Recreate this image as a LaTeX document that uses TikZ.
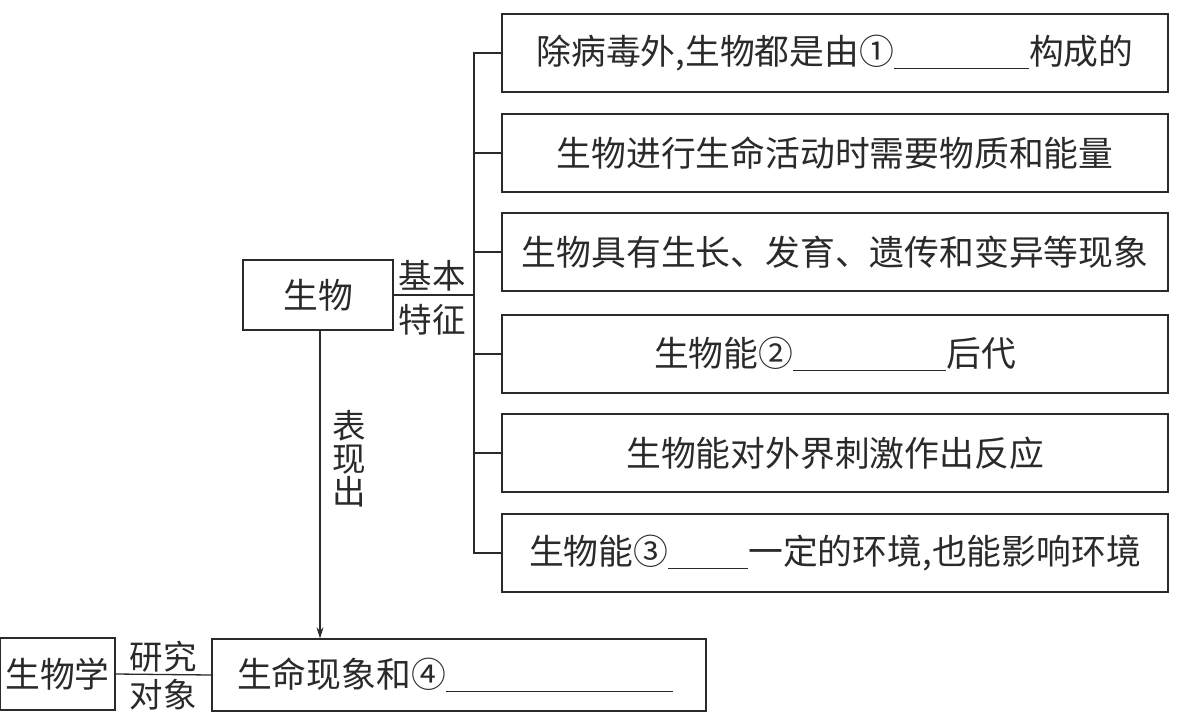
\documentclass[tikz,border=0pt]{standalone}
\usepackage{fontspec}
\setmainfont{Noto Sans CJK SC}
\usetikzlibrary{arrows.meta}
\definecolor{ink}{HTML}{2A2A2A}
\newcommand{\blank}[1]{\rule[-0.13em]{#1pt}{1.3pt}}
\tikzset{
  every node/.style={text=ink, font=\fontsize{34.8}{40}\selectfont},
  featbox/.style={draw=ink, line width=1.3pt, minimum width=666pt, minimum height=78pt, inner sep=0pt},
  plainbox/.style={draw=ink, line width=1.3pt, inner sep=0pt},
  conn/.style={draw=ink, line width=1.3pt},
  lbl/.style={inner sep=0pt, font=\fontsize{33.5}{40}\selectfont}
}
\begin{document}
\begin{tikzpicture}[x=1pt,y=-1pt]
\useasboundingbox (0,0) rectangle (1179,724);
% feature boxes
\node[featbox] (b1) at (835,53)  {除病毒外,生物都是由①\blank{135}构成的};
\node[featbox] (b2) at (835,153) {生物进行生命活动时需要物质和能量};
\node[featbox] (b3) at (835,252) {生物具有生长、发育、遗传和变异等现象};
\node[featbox] (b4) at (835,354) {生物能②\blank{153}后代};
\node[featbox] (b5) at (835,453) {生物能对外界刺激作出反应};
\node[featbox] (b6) at (835,553) {生物能③\blank{80}一定的环境,也能影响环境};
% organism box
\node[plainbox, minimum width=150pt, minimum height=70pt] (bio) at (318,295) {生物};
% bottom boxes
\node[plainbox, minimum width=115pt, minimum height=72pt] (bx) at (57.5,674) {生物学};
\node[plainbox, minimum height=72pt, text width=444pt, inner xsep=25pt, align=left] (life) at (459,675) {生命现象和④\blank{227}};
% bracket
\coordinate (sp) at (474,0);
\draw[conn] (b1.west) -| (sp |- b6.west) -- (b6.west);
\foreach \b in {b2,b3,b4,b5}{\draw[conn] (\b.west) -- (sp |- \b.west);}
\draw[conn] (bio.east) -- (sp |- bio.east);
% labels
\node[lbl] (l1) at (432,276) {基本};
\node[lbl] (l2) at (432,320) {特征};
% arrow
\draw[conn, -{Stealth[length=11pt,width=7pt]}] ([xshift=2pt]bio.south) -- ([xshift=2pt]bio.south |- life.north);
\node[lbl, align=center, font=\fontsize{33.5}{33}\selectfont] (l3) at (349,459) {表\\现\\出};
% bottom connector
\draw[conn] (bx.east) -- (life.west);
\node[lbl] (l4) at (163,657) {研究};
\node[lbl] (l5) at (163,695) {对象};
\end{tikzpicture}
\end{document}
